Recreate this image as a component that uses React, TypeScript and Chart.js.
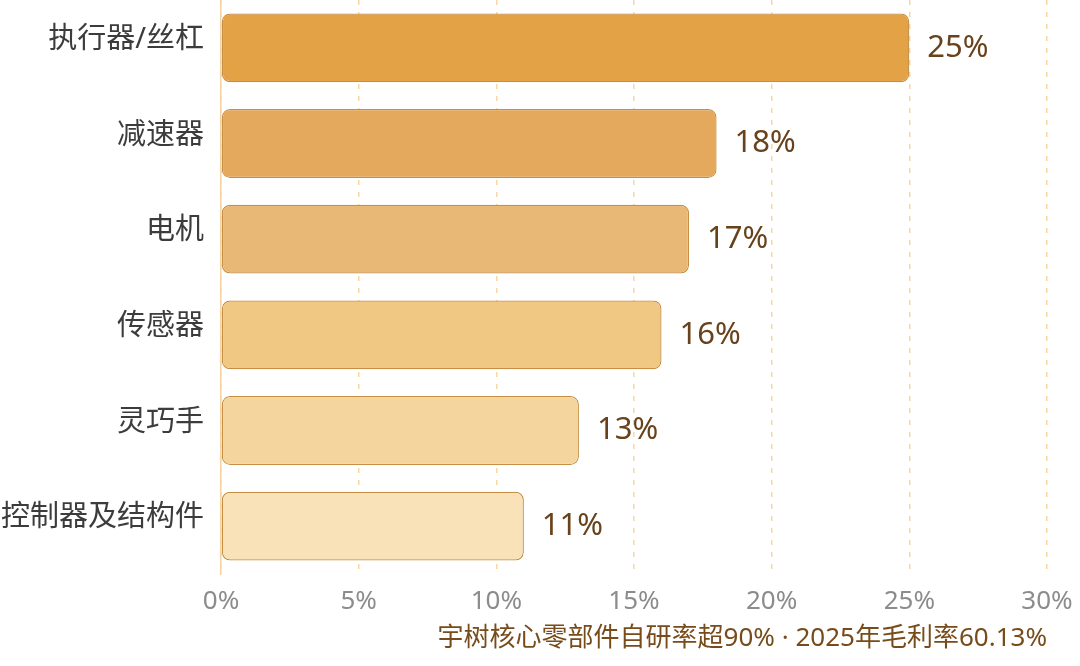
import { useEffect, useRef } from 'react';
import { Chart, registerables } from 'chart.js';
import type { Plugin } from 'chart.js';

Chart.register(...registerables);

const categories = ['执行器/丝杠', '减速器', '电机', '传感器', '灵巧手', '控制器及结构件'];
const shares = [25, 18, 17, 16, 13, 11];
const barColors = ['#E3A245', '#E5A95D', '#E8B877', '#F0C883', '#F4D59E', '#F9E1B8'];
const xTicks = [0, 5, 10, 15, 20, 25, 30];
const footnote = '宇树核心零部件自研率超90% · 2025年毛利率60.13%';

const FONT = '"Noto Sans", "Noto Sans CJK SC", sans-serif';

// draws "25%" etc. to the right of each bar
const valueLabels: Plugin<'bar'> = {
  id: 'valueLabels',
  afterDatasetsDraw(chart) {
    const { ctx } = chart;
    const meta = chart.getDatasetMeta(0);
    ctx.save();
    ctx.font = `31px ${FONT}`;
    ctx.fillStyle = '#67421A';
    ctx.textAlign = 'left';
    ctx.textBaseline = 'middle';
    meta.data.forEach((bar, i) => {
      ctx.fillText(`${shares[i]}%`, bar.x + 18, bar.y);
    });
    ctx.restore();
  },
};

export default function App() {
  const chartRef = useRef<HTMLCanvasElement>(null);
  const chartInstance = useRef<Chart | null>(null);

  useEffect(() => {
    document.body.style.margin = '0';
    if (!chartRef.current) return;
    if (chartInstance.current) chartInstance.current.destroy();

    const ctx = chartRef.current.getContext('2d');
    if (!ctx) return;

    chartInstance.current = new Chart(ctx, {
      type: 'bar',
      data: {
        labels: categories,
        datasets: [{
          data: shares,
          backgroundColor: barColors,
          borderColor: '#C68F45',
          borderWidth: 1.3,
          borderRadius: 8,
          borderSkipped: false,
          barPercentage: 0.72,
          categoryPercentage: 1,
        }],
      },
      options: {
        indexAxis: 'y',
        responsive: true,
        maintainAspectRatio: false,
        animation: false,
        layout: { padding: { top: 0, right: 33, bottom: 0, left: 0 } },
        plugins: {
          legend: { display: false },
          tooltip: { enabled: false },
        },
        scales: {
          x: {
            min: 0,
            max: 30,
            afterBuildTicks: (scale) => {
              scale.ticks = xTicks.map(v => ({ value: v }));
            },
            afterFit: (scale) => {
              scale.height = 92;
              scale.paddingLeft = 0;
              scale.paddingRight = 0;
            },
            grid: {
              color: '#F7D7A6',
              lineWidth: 1.5,
              drawTicks: false,
            },
            border: { display: false, dash: [5, 7] },
            ticks: {
              padding: 12,
              color: '#8C8C8C',
              font: { family: FONT, size: 26 },
              callback: (v) => `${v}%`,
            },
            title: {
              display: true,
              text: footnote,
              align: 'end',
              color: '#784C1A',
              font: { family: FONT, size: 26 },
              padding: { top: 0, bottom: 12 },
            },
          },
          y: {
            afterFit: (scale) => {
              scale.width = 221;
              scale.paddingTop = 0;
              scale.paddingBottom = 0;
            },
            grid: { display: false },
            border: { display: true, color: '#F5D3A0', width: 1.5 },
            ticks: {
              padding: 9,
              labelOffset: -8,
              color: '#3C3C3C',
              font: { family: FONT, size: 29 },
            },
          },
        },
      },
      plugins: [valueLabels],
    });

    return () => {
      if (chartInstance.current) {
        chartInstance.current.destroy();
        chartInstance.current = null;
      }
    };
  }, []);

  return (
    <div style={{ width: 1080, height: 666, position: 'relative' }}>
      <canvas ref={chartRef} />
    </div>
  );
}
